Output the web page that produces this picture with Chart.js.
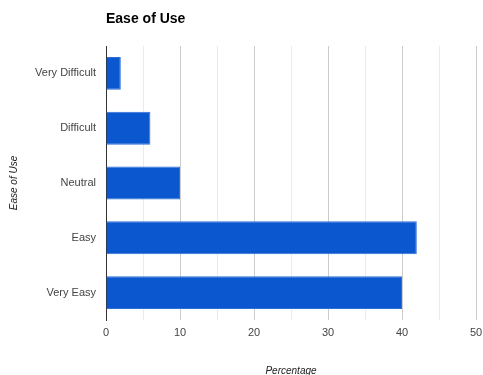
<!DOCTYPE html>
<html>
<head>
<meta charset="utf-8">
<script src="https://cdn.jsdelivr.net/npm/chart.js@4"></script>
<style>
  html, body { margin: 0; padding: 0; background: #fff; }
  #wrap { width: 483px; height: 375px; }
</style>
</head>
<body>
<div id="wrap"><canvas id="easeChart"></canvas></div>
<script>
const categories = ['Very Difficult', 'Difficult', 'Neutral', 'Easy', 'Very Easy']
const percentages = [2, 6, 10, 42, 40]
const xTicks = [0, 10, 20, 30, 40, 50]

// title sits flush with the left edge of the plot area
const titlePlugin = {
    id: 'leftTitle',
    afterDraw(chart) {
        const ctx = chart.ctx
        ctx.save()
        ctx.font = 'bold 14px "Liberation Sans", Arial, sans-serif'
        ctx.fillStyle = '#000'
        ctx.textBaseline = 'middle'
        ctx.fillText('Ease of Use', chart.chartArea.left, 19)
        ctx.restore()
    }
}

new Chart(document.getElementById('easeChart'), {
    type: 'bar',
    data: {
        labels: categories,
        datasets: [{
            label: 'Percentage',
            data: percentages,
            backgroundColor: '#0b57d0',
            borderColor: '#2f6fd8',
            borderWidth: 1,
            barPercentage: 0.6,
            categoryPercentage: 1.0
        }]
    },
    plugins: [titlePlugin],
    options: {
        indexAxis: 'y',
        responsive: true,
        maintainAspectRatio: false,
        animation: false,
        layout: { padding: { top: 46, right: 7, left: 0, bottom: 0 } },
        plugins: {
            legend: { display: false },
            tooltip: { enabled: false }
        },
        scales: {
            x: {
                min: 0,
                max: 50,
                ticks: {
                    stepSize: 5,
                    color: '#444',
                    padding: 6,
                    maxRotation: 0,
                    font: { family: '"Liberation Sans", Arial, sans-serif', size: 11 },
                    callback: (v) => xTicks.includes(v) ? v : ''
                },
                grid: {
                    color: (c) => c.tick && c.tick.value % 10 === 0 ? '#cccccc' : '#ebebeb',
                    drawTicks: false
                },
                border: { display: false },
                title: {
                    display: true,
                    text: 'Percentage',
                    color: '#222',
                    padding: { top: 20, bottom: -2 },
                    font: { family: '"Liberation Sans", Arial, sans-serif', size: 10, style: 'italic' }
                },
                afterFit(scale) {
                    scale.height = 55
                    scale.paddingRight = 0
                    scale.paddingLeft = 0
                }
            },
            y: {
                ticks: {
                    color: '#444',
                    padding: 10,
                    font: { family: '"Liberation Sans", Arial, sans-serif', size: 11 }
                },
                grid: { display: false, drawTicks: false },
                border: { display: true, color: '#333', width: 1 },
                title: {
                    display: true,
                    text: 'Ease of Use',
                    color: '#222',
                    padding: { top: 8, bottom: 0 },
                    font: { family: '"Liberation Sans", Arial, sans-serif', size: 10, style: 'italic' }
                },
                afterFit(scale) { scale.width = 106 }
            }
        }
    }
})
</script>
</body>
</html>
